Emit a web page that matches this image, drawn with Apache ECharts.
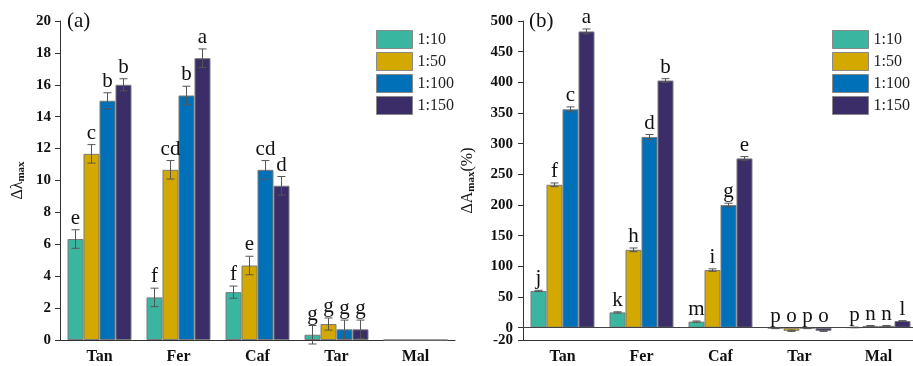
<!DOCTYPE html>
<html>
<head>
<meta charset="utf-8">
<script src="https://cdn.jsdelivr.net/npm/echarts@6/dist/echarts.min.js"></script>
<style>
  html, body { margin: 0; padding: 0; background: #fff; }
  #chart { width: 913px; height: 366px; }
</style>
</head>
<body>
<div id="chart"></div>
<script>
var categories = ['Tan', 'Fer', 'Caf', 'Tar', 'Mal'];
var ratios = ['1:10', '1:50', '1:100', '1:150'];
var colors = ['#3ab5a0', '#d3a800', '#0070b8', '#3a2d68'];

// (a) Δλmax
var lamVal = [
  [6.33, 2.67, 3.00, 0.33, 0],
  [11.67, 10.67, 4.67, 1.00, 0],
  [15.00, 15.33, 10.67, 0.67, 0],
  [16.00, 17.67, 9.67, 0.67, 0]
];
var lamErr = [
  [0.58, 0.58, 0.38, 0.58, 0],
  [0.58, 0.58, 0.58, 0.38, 0],
  [0.50, 0.58, 0.58, 0.58, 0],
  [0.38, 0.58, 0.58, 0.58, 0]
];
var lamSig = [
  ['e', 'f', 'f', 'g', ''],
  ['c', 'cd', 'e', 'g', ''],
  ['b', 'b', 'cd', 'g', ''],
  ['b', 'a', 'd', 'g', '']
];

// (b) ΔAmax (%)
var absVal = [
  [60, 25, 10, -1, 0.5],
  [233, 127, 94, -5, 3],
  [356, 311, 200, -1, 3],
  [483, 403, 276, -5, 11]
];
var absErr = [
  [1, 1, 1, 0.5, 0.5],
  [3, 3, 2, 1, 0.5],
  [4, 4, 3, 0.5, 0.5],
  [4, 3, 3, 1, 0.5]
];
var absSig = [
  ['j', 'k', 'm', 'p', 'p'],
  ['f', 'h', 'i', 'o', 'n'],
  ['c', 'd', 'g', 'p', 'n'],
  ['a', 'b', 'e', 'o', 'l']
];
var absTicks = [0, 50, 100, 150, 200, 250, 300, 350, 400, 450, 500];
var absMinTick = [-20];

var serif = '"Liberation Serif", "Times New Roman", serif';
var axisColor = '#333';
var catGap = 0.19;

function errData(vals, errs, sigs) {
  var out = [];
  for (var k = 0; k < vals.length; k++) {
    for (var c = 0; c < categories.length; c++) {
      out.push([c, vals[k][c], errs[k][c], k, sigs[k][c]]);
    }
  }
  return out;
}

var errDataAll = {};

function renderErr(params, api) {
  var c = api.value(0), v = api.value(1), e = api.value(2), k = api.value(3);
  var sig = errDataAll[params.seriesIndex][params.dataIndex][4];
  var center = api.coord([c, 0]);
  var bw = api.size([1, 0])[0] * (1 - catGap) / 4;
  var x = center[0] - 2 * bw + (k + 0.5) * bw;
  var top = api.coord([c, v + e])[1];
  var bot = api.coord([c, v - e])[1];
  var lab = api.coord([c, Math.max(v + e, 0)])[1];
  var st = { stroke: '#555', lineWidth: 1 };
  var kids = [];
  if (e > 0 && v !== 0) {
    kids.push({ type: 'line', shape: { x1: x, y1: top, x2: x, y2: bot }, style: st });
    kids.push({ type: 'line', shape: { x1: x - 4, y1: top, x2: x + 4, y2: top }, style: st });
    kids.push({ type: 'line', shape: { x1: x - 4, y1: bot, x2: x + 4, y2: bot }, style: st });
  }
  if (sig) {
    kids.push({ type: 'text', style: { text: sig, x: x, y: lab - 1, align: 'center', verticalAlign: 'bottom',
      font: '21px ' + serif, fill: '#111' } });
  }
  return { type: 'group', children: kids };
}

function mkXAxes(gi) {
  return [
    {
      type: 'category', gridIndex: gi, data: categories,
      axisLine: { onZero: false, lineStyle: { color: axisColor, width: 1 } },
      axisTick: { alignWithLabel: true, length: 5, lineStyle: { color: axisColor } },
      axisLabel: { fontFamily: serif, fontWeight: 'bold', fontSize: 16, color: '#111', margin: 9 }
    },
    {
      type: 'category', gridIndex: gi, data: categories, position: 'bottom',
      axisLine: { show: false, onZero: false },
      axisTick: { inside: true, length: 3, lineStyle: { color: axisColor } },
      axisLabel: { show: false }
    }
  ];
}

var series = [];
[[lamVal, lamErr, lamSig], [absVal, absErr, absSig]].forEach(function (set, gi) {
  ratios.forEach(function (r, k) {
    var s = {
      name: r, type: 'bar', xAxisIndex: gi * 2, yAxisIndex: gi,
      data: set[0][k], barGap: '0%', barCategoryGap: (catGap * 100) + '%',
      itemStyle: { color: colors[k], borderColor: '#7a7a7a', borderWidth: 1 },
      silent: true
    };
    if (gi === 1 && k === 0) {
      s.markLine = {
        silent: true, symbol: 'none', label: { show: false },
        lineStyle: { color: '#444', width: 1, type: 'solid' },
        data: [{ yAxis: 0 }]
      };
    }
    series.push(s);
  });
  var ed = errData(set[0], set[1], set[2]);
  errDataAll[series.length] = ed;
  series.push({
    type: 'custom', xAxisIndex: gi * 2, yAxisIndex: gi,
    data: ed.map(function (d) { return d.slice(0, 4); }),
    encode: { x: 0, y: 1 },
    renderItem: renderErr, silent: true, z: 5
  });
});

var legendBase = {
  orient: 'vertical', itemWidth: 36, itemHeight: 18, itemGap: 3, padding: 0,
  icon: 'rect', data: ratios, selectedMode: false,
  itemStyle: { borderWidth: 1, borderColor: '#8a8a8a' },
  textStyle: { fontFamily: serif, fontSize: 16, color: '#222' }
};

var nameRich = { s: { fontFamily: serif, fontSize: 11, fontWeight: 'bold', color: '#111', padding: [7, 0, 0, 0] } };
var yLabel = { fontFamily: serif, fontWeight: 'bold', fontSize: 15, color: '#111' };

var option = {
  animation: false,
  backgroundColor: '#fff',
  grid: [
    { left: 60, top: 21, width: 395, height: 319, outerBoundsMode: 'none' },
    { left: 523, top: 21, width: 395, height: 319, outerBoundsMode: 'none' }
  ],
  xAxis: mkXAxes(0).concat(mkXAxes(1)),
  yAxis: [
    {
      type: 'value', gridIndex: 0, min: 0, max: 20, interval: 2,
      splitLine: { show: false },
      axisLine: { show: true, lineStyle: { color: axisColor } },
      axisTick: { show: true, length: 5, lineStyle: { color: axisColor } },
      axisLabel: Object.assign({ margin: 9 }, yLabel),
      name: 'Δλ{s|max}', nameLocation: 'middle', nameGap: 33, nameRotate: 90,
      nameTextStyle: { fontFamily: serif, fontSize: 16, color: '#111', rich: nameRich }
    },
    {
      type: 'value', gridIndex: 1, min: -20, max: 500, position: 'left',
      splitLine: { show: false },
      axisLine: { show: true, onZero: false, lineStyle: { color: axisColor } },
      axisTick: { show: true, length: 5, customValues: absTicks, lineStyle: { color: axisColor } },
      axisLabel: Object.assign({ customValues: absTicks, margin: 10 }, yLabel),
      name: 'ΔA{s|max}(%)', nameLocation: 'middle', nameGap: 46, nameRotate: 90,
      nameTextStyle: { fontFamily: serif, fontSize: 16, color: '#111', rich: nameRich }
    },
    {
      // carries only the -20 tick so it is not hidden next to 0
      type: 'value', gridIndex: 1, min: -20, max: 500, position: 'left', offset: 0,
      splitLine: { show: false },
      axisLine: { show: false, onZero: false },
      axisTick: { show: true, length: 5, customValues: absMinTick, lineStyle: { color: axisColor } },
      axisLabel: Object.assign({ customValues: absMinTick, showMinLabel: true, margin: 10 }, yLabel)
    }
  ],
  legend: [
    Object.assign({}, legendBase, { left: 376, top: 30 }),
    Object.assign({}, legendBase, { left: 832, top: 30 })
  ],
  graphic: [
    { type: 'text', left: 67, top: 11, style: { text: '(a)', font: '21px ' + serif, fill: '#111' } },
    { type: 'text', left: 529, top: 11, style: { text: '(b)', font: '21px ' + serif, fill: '#111' } }
  ],
  series: series
};

var chart = echarts.init(document.getElementById('chart'), null, { renderer: 'canvas' });
chart.setOption(option);
</script>
</body>
</html>
